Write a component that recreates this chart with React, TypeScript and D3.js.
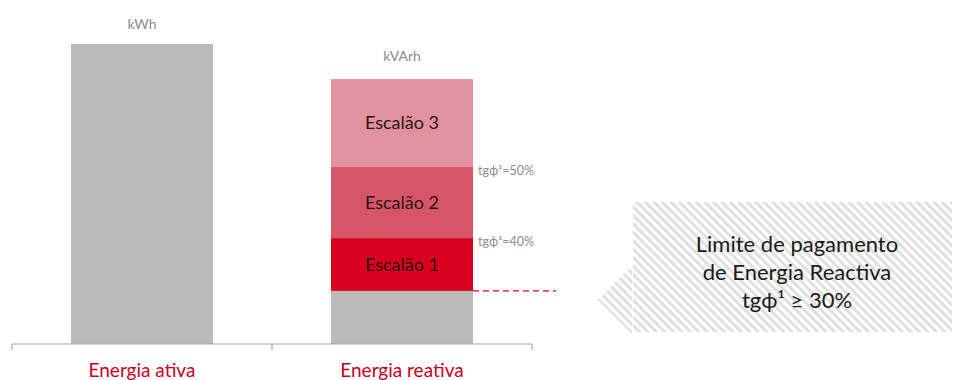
import React from "react";
import * as d3 from "d3";

const categories = ["Energia ativa", "Energia reativa"];
const units = ["kWh", "kVArh"];
const activeValues = [100];
const reactiveSegments = ["Base", "Escalão 1", "Escalão 2", "Escalão 3"];
const reactiveValues = [17.7, 17.6, 23.7, 29.3];
const segmentColors = ["#bababa", "#d7001e", "#d65668", "#e0939e"];
const thresholdLabels = ["tgϕ¹=40%", "tgϕ¹=50%"];
const calloutLines = ["Limite de pagamento", "de Energia Reactiva", "tgϕ¹ ≥ 30%"];

const W = 956;
const H = 380;
const FONT = "Lato, 'Open Sans', sans-serif";

export default function App() {
  const x = d3
    .scaleBand<string>()
    .domain(categories)
    .range([12, 532])
    .paddingInner(0.4538)
    .paddingOuter(0.2269);
  const y = d3.scaleLinear().domain([0, 100]).range([344, 44]);

  const row: Record<string, number> = {};
  reactiveSegments.forEach((k, i) => (row[k] = reactiveValues[i]));
  const stacked = d3.stack<Record<string, number>>().keys(reactiveSegments)([row]);

  const bw = x.bandwidth();
  const x0 = x(categories[0])!;
  const x1 = x(categories[1])!;
  const step = x.step();
  const axisY = y(0);

  const baseTop = y(stacked[0][0][1]);
  const reactiveTop = y(stacked[stacked.length - 1][0][1]);

  // callout geometry
  const cx0 = 633;
  const cx1 = 952;
  const cy0 = 202;
  const cy1 = 332;
  const arrowTip = 598;
  const arrowMid = baseTop + 9;

  return (
    <svg
      width={W}
      height={H}
      style={{ position: "absolute", left: 0, top: 0, background: "#fff" }}
      fontFamily={FONT}
    >
      <defs>
        <pattern
          id="hatch"
          patternUnits="userSpaceOnUse"
          width={6}
          height={6}
          patternTransform="rotate(-45)"
        >
          <rect width={6} height={6} fill="#ffffff" />
          <rect width={3} height={6} fill="#e0e0e0" />
        </pattern>
      </defs>

      {/* Active energy bar */}
      <rect x={x0} y={y(activeValues[0])} width={bw} height={axisY - y(activeValues[0])} fill="#bababa" />
      <text x={x0 + bw / 2} y={29} textAnchor="middle" fontSize={14} fill="#8c8c8c">
        {units[0]}
      </text>

      {/* Reactive energy stacked bar */}
      {stacked.map((s, i) => {
        const top = y(s[0][1]);
        const bot = y(s[0][0]);
        return (
          <g key={s.key}>
            <rect x={x1} y={top} width={bw} height={bot - top} fill={segmentColors[i]} />
            {i > 0 && (
              <text
                x={x1 + bw / 2}
                y={(top + bot) / 2 + 6}
                textAnchor="middle"
                fontSize={18}
                fill="#2b1515"
              >
                {s.key}
              </text>
            )}
          </g>
        );
      })}
      <text x={x1 + bw / 2} y={reactiveTop - 18} textAnchor="middle" fontSize={14} fill="#8c8c8c">
        {units[1]}
      </text>

      {/* threshold labels */}
      {thresholdLabels.map((t, i) => (
        <text key={t} x={x1 + bw + 5} y={y(stacked[i + 1][0][1]) + 8} fontSize={12.5} fill="#8c8c8c">
          {t}
        </text>
      ))}

      {/* dashed limit line */}
      <line
        x1={x1 + bw}
        x2={556}
        y1={baseTop}
        y2={baseTop}
        stroke="#d7001e"
        strokeWidth={1.2}
        strokeDasharray="6 4"
      />

      {/* axis */}
      <line x1={12} x2={532} y1={axisY} y2={axisY} stroke="#a6a6a6" strokeWidth={1.2} />
      {[0, 1, 2].map((i) => (
        <line
          key={i}
          x1={12 + i * step}
          x2={12 + i * step}
          y1={axisY}
          y2={axisY + 6}
          stroke="#a6a6a6"
          strokeWidth={1.2}
        />
      ))}
      {categories.map((c) => (
        <text key={c} x={x(c)! + bw / 2} y={377} textAnchor="middle" fontSize={19} fill="#c8001e">
          {c}
        </text>
      ))}

      {/* callout */}
      <polygon
        points={`${cx0 - 1},${arrowMid - 34} ${arrowTip},${arrowMid} ${cx0 - 1},${arrowMid + 34}`}
        fill="url(#hatch)"
      />
      <rect x={cx0} y={cy0} width={cx1 - cx0} height={cy1 - cy0} fill="url(#hatch)" />
      {calloutLines.map((l, i) => (
        <text key={l} x={797} y={252 + i * 28} textAnchor="middle" fontSize={22} fill="#1a1a1a">
          {l}
        </text>
      ))}
    </svg>
  );
}
